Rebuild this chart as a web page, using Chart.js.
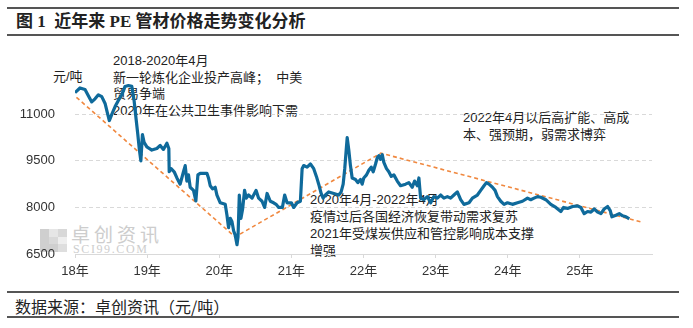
<!DOCTYPE html>
<html>
<head>
<meta charset="utf-8">
<script src="https://cdn.jsdelivr.net/npm/chart.js@4/dist/chart.umd.min.js"></script>
<style>
  body { margin: 0; background: #fff; }
  #wrap { position: relative; width: 693px; height: 328px; overflow: hidden; background: #fff;
          font-family: 'Liberation Sans', 'Noto Sans CJK SC', sans-serif; color: #222; }
  .rule { position: absolute; left: 7px; width: 672px; height: 2px; background: #555; }
  .note { position: absolute; font-size: 13px; line-height: 17px; white-space: nowrap; color: #222; }
  #chart { position: absolute; left: 0; top: 40px; }
</style>
</head>
<body>
<div id="wrap">
  <div class="rule" style="top:7px"></div>
  <div style="position:absolute;left:16px;top:10px;font-family:'Liberation Serif','Noto Sans CJK SC',serif;font-weight:bold;font-size:17px;line-height:24px;color:#222">图 1&nbsp; 近年来 PE 管材价格走势变化分析</div>
  <div class="rule" style="top:34px"></div>

  <!-- 水印 -->
  <div style="position:absolute;left:40px;top:229px;width:27px;height:23px;display:grid;grid-template-columns:repeat(3,9px);grid-template-rows:repeat(3,7.6px)">
    <div style="background:#cfcfcf"></div><div style="background:#e6e6e6"></div><div style="background:#d8d8d8"></div>
    <div style="background:#cfcfcf"></div><div style="background:#d9d9d9"></div><div style="background:#eee"></div>
    <div style="background:#cfcfcf"></div><div style="background:#cfcfcf"></div><div style="background:#dedede"></div>
  </div>
  <div style="position:absolute;left:71px;top:223px;font-size:19px;line-height:22px;letter-spacing:4px;color:#cdcdcd;font-family:'Noto Sans CJK SC',sans-serif">卓创资讯</div>
  <div style="position:absolute;left:73px;top:243px;font-size:12px;line-height:12px;letter-spacing:1.6px;color:#cdcdcd;font-family:'Liberation Serif',serif">SCI99.COM</div>

  <div class="note" style="left:53px;top:68px">元/吨</div>
  <div class="note" style="left:113px;top:53px;line-height:16.7px">2018-2020年4月<br>新一轮炼化企业投产高峰；&nbsp; 中美<br>贸易争端<br>2020年在公共卫生事件影响下需</div>
  <div class="note" style="left:310px;top:191px">2020年4月-2022年4月<br>疫情过后各国经济恢复带动需求复苏<br>2021年受煤炭供应和管控影响成本支撑<br>增强</div>
  <div class="note" style="left:463px;top:109px">2022年4月以后高扩能、高成<br>本、强预期，弱需求博弈</div>

  <canvas id="chart" width="693" height="250"></canvas>

  <div class="rule" style="top:291px"></div>
  <div style="position:absolute;left:15px;top:295px;font-size:16px;line-height:22px;color:#222;font-family:'Noto Sans CJK SC',sans-serif">数据来源：卓创资讯（元/吨）</div>
  <div class="rule" style="top:316px"></div>
</div>

<script>
// PE管材价格（元/吨），横轴为年份（小数表示年内位置）
const dates = [
  2018.000, 2018.069, 2018.139, 2018.185, 2018.232, 2018.278, 2018.324, 2018.371, 2018.417, 2018.449, 2018.476, 2018.510, 2018.556, 2018.601, 2018.649, 2018.694, 2018.740, 2018.788, 2018.819, 2018.847, 2018.871, 2018.893, 2018.913, 2018.935, 2018.958, 2018.996,
  2019.065, 2019.135, 2019.181, 2019.226, 2019.274, 2019.301, 2019.306, 2019.333, 2019.375, 2019.413, 2019.458, 2019.504, 2019.528, 2019.551, 2019.574, 2019.597, 2019.643, 2019.676, 2019.704, 2019.736, 2019.829, 2019.851, 2019.875, 2019.907, 2019.944, 2019.968,
  2020.014, 2020.083, 2020.107, 2020.129, 2020.153, 2020.176, 2020.199, 2020.222, 2020.246, 2020.260, 2020.278, 2020.301, 2020.324, 2020.351, 2020.375, 2020.407, 2020.454, 2020.510, 2020.546, 2020.593, 2020.629, 2020.663, 2020.708, 2020.754, 2020.788, 2020.824, 2020.875, 2020.907, 2020.940,
  2021.000, 2021.032, 2021.079, 2021.125, 2021.149, 2021.171, 2021.218, 2021.264, 2021.310, 2021.347, 2021.379, 2021.413, 2021.440, 2021.472, 2021.518, 2021.588, 2021.657, 2021.690, 2021.718, 2021.740, 2021.760, 2021.774, 2021.796, 2021.819, 2021.843, 2021.889, 2021.921, 2021.958, 2021.982,
  2022.004, 2022.042, 2022.074, 2022.107, 2022.135, 2022.167, 2022.190, 2022.213, 2022.236, 2022.260, 2022.282, 2022.319, 2022.351, 2022.385, 2022.421, 2022.468, 2022.514, 2022.583, 2022.629, 2022.676, 2022.708, 2022.746, 2022.768, 2022.792, 2022.838, 2022.885, 2022.931, 2022.976,
  2023.024, 2023.069, 2023.115, 2023.163, 2023.208, 2023.254, 2023.301, 2023.347, 2023.393, 2023.463, 2023.510, 2023.579, 2023.625, 2023.671, 2023.704, 2023.740, 2023.788, 2023.824, 2023.857, 2023.903, 2023.949, 2023.996,
  2024.065, 2024.135, 2024.204, 2024.274, 2024.319, 2024.365, 2024.413, 2024.458, 2024.528, 2024.597, 2024.667, 2024.736, 2024.774, 2024.829, 2024.899, 2024.968,
  2025.014, 2025.060, 2025.107, 2025.153, 2025.199, 2025.246, 2025.292, 2025.337, 2025.385, 2025.421, 2025.444, 2025.500, 2025.546, 2025.593, 2025.639, 2025.685
];
const prices = [
  11700, 11850, 11800, 11600, 11400, 11500, 11630, 11570, 11350, 11050, 10800, 11000, 11250, 11450, 11630, 11900, 11930, 11900, 11450, 10850, 10350, 9850, 9500, 10350, 10100, 9950,
  9850, 9900, 10000, 9870, 10070, 9900, 9150, 9250, 9150, 8950, 8750, 9150, 9350, 8850, 9050, 8650, 8550, 8210, 9050, 9100, 9100, 8950, 8700, 8600, 8650, 8400,
  8150, 8100, 7750, 7350, 7650, 7550, 7250, 7100, 6800, 7050, 8400, 7650, 7950, 8550, 8300, 8400, 8300, 8550, 8300, 8200, 8000, 8450, 8200, 8150, 8100, 8000, 8000, 8400, 8150,
  8150, 8000, 8150, 8200, 9250, 9350, 9300, 9400, 9250, 9000, 8750, 8450, 8300, 8400, 8500, 8450, 8400, 8500, 8750, 9250, 9850, 10250, 9850, 9350, 8950, 8900, 8800, 8900, 8750,
  8950, 9050, 9200, 9300, 9150, 9400, 9600, 9670, 9550, 9700, 9450, 9250, 9150, 9000, 9050, 8850, 8700, 8750, 8800, 8650, 8850, 8700, 8950, 8300, 8250, 8350, 8150, 8350,
  8300, 8400, 8300, 8350, 8300, 8400, 8500, 8250, 8100, 8150, 8300, 8400, 8550, 8700, 8800, 8750, 8650, 8550, 8350, 8200, 8100, 8150,
  8100, 8150, 8200, 8300, 8250, 8300, 8350, 8330, 8250, 8100, 8000, 7870, 8000, 7970, 8030, 8050,
  8000, 7800, 7870, 7850, 7950, 7850, 7800, 7950, 8030, 7900, 7700, 7750, 7800, 7730, 7700, 7630
];

// 趋势线（橙色虚线）
const trendDates = [2018.02, 2020.22, 2022.24, 2025.85];
const trendPrices = [11550, 7050, 9750, 7530];

const yearLabels = ['18年', '19年', '20年', '21年', '22年', '23年', '24年', '25年'];
const yTicks = [6500, 8000, 9500, 11000];

const tickFont = { family: "'Liberation Sans', 'Noto Sans CJK SC', sans-serif", size: 13 };

new Chart(document.getElementById('chart'), {
  type: 'line',
  data: {
    datasets: [{
      label: 'PE管材',
      data: dates.map((d, i) => ({ x: d, y: prices[i] })),
      borderColor: '#0f6a9b',
      borderWidth: 3.2,
      borderJoinStyle: 'round',
      pointRadius: 0,
      tension: 0
    }, {
      label: '趋势',
      data: trendDates.map((d, i) => ({ x: d, y: trendPrices[i] })),
      borderColor: '#f0883f',
      borderWidth: 1.6,
      borderDash: [4, 3],
      pointRadius: 0,
      tension: 0
    }]
  },
  options: {
    responsive: false,
    animation: false,
    devicePixelRatio: 1,
    layout: { padding: { top: 16, right: 41, left: 0, bottom: 0 } },
    plugins: { legend: { display: false }, tooltip: { enabled: false } },
    scales: {
      x: {
        type: 'linear',
        min: 2018,
        max: 2026,
        afterBuildTicks: s => { s.ticks = yearLabels.map((l, i) => ({ value: 2018 + i })); },
        afterFit: s => { s.height = 36; },
        ticks: {
          callback: (v, i) => yearLabels[i],
          font: tickFont,
          color: '#333',
          padding: 6,
          maxRotation: 0,
          autoSkip: false
        },
        grid: { drawOnChartArea: false, drawTicks: true, tickLength: 4, color: '#d9d9d9' },
        border: { display: true, color: '#d9d9d9', width: 1 }
      },
      y: {
        min: 6500,
        max: 12500,
        afterBuildTicks: s => { s.ticks = yTicks.map(v => ({ value: v })); },
        afterFit: s => { s.width = 75; },
        ticks: { font: tickFont, color: '#333', padding: 20, callback: v => String(v) },
        grid: {
          drawTicks: false,
          color: ctx => (ctx.tick && ctx.tick.value === 6500) ? 'rgba(0,0,0,0)' : '#d9d9d9'
        },
        border: { display: false, dash: [4, 3] }
      }
    }
  }
});
</script>
</body>
</html>
